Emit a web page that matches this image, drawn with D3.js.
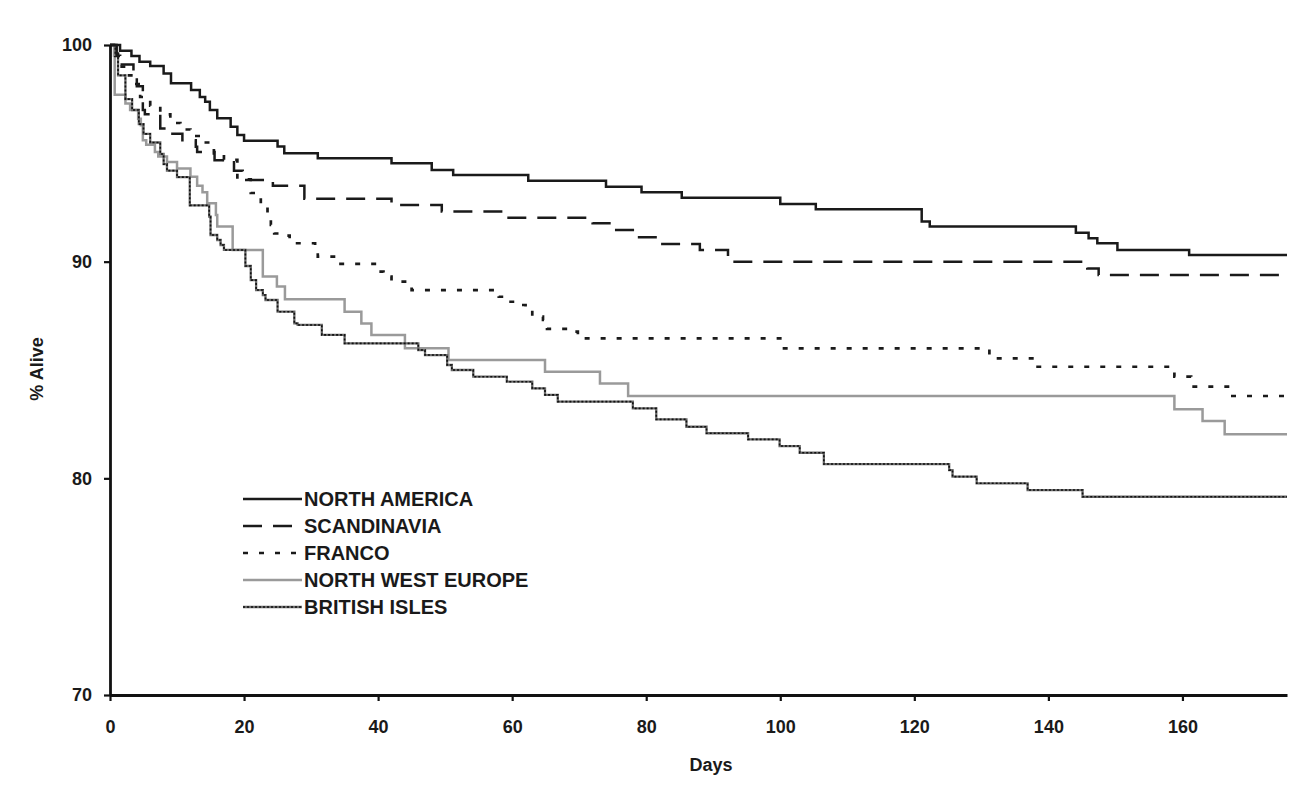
<!DOCTYPE html>
<html><head><meta charset="utf-8">
<script src="https://cdn.jsdelivr.net/npm/d3@7"></script>
<style>
body{margin:0;background:#fff}
svg{display:block}
text{font-family:"Liberation Sans",Arial,Helvetica,sans-serif;font-weight:bold;fill:#1a1a1a}
</style>
</head><body>
<svg id="c" width="1289" height="786"></svg>
<script>
// ---- data ----
const seriesNames = ["NORTH AMERICA","SCANDINAVIA","FRANCO","NORTH WEST EUROPE","BRITISH ISLES"];
const xTicks = [0,20,40,60,80,100,120,140,160];
const yTicks = [70,80,90,100];
const xMax = 175.6;
const xLabel = "Days";
const yLabel = "% Alive";

const naDays = [0,1.5,3.2,4.4,6,8,9.1,12.1,13.4,14.2,14.9,16,18,19,20,25,26,31,42,48,51.2,62.4,74,79.3,85.3,100,105.3,121.1,122.3,144.1,146,147.3,150.3,161];
const naVals = [100,99.74,99.49,99.23,99.03,98.69,98.23,97.92,97.6,97.38,97.0,96.62,96.23,95.85,95.58,95.31,95.0,94.77,94.54,94.23,94.0,93.74,93.46,93.2,92.95,92.66,92.42,91.85,91.62,91.34,91.08,90.85,90.54,90.31];

const scDays = [0,1,1.2,3.5,4.0,4.9,5.2,7.5,9,10.8,12.8,13.0,15.6,18.5,19.8,24.3,29,42,49.5,59,72,75,78,82,88,92.2,145.8,147.5];
const scVals = [100,99.6,99.1,98.6,98.1,97.0,96.8,96.15,95.9,95.6,95.3,95.06,94.68,94.2,93.77,93.5,92.9,92.62,92.31,92.03,91.77,91.46,91.13,90.82,90.54,90.0,89.69,89.38];

const frDays = [0,0.8,1.5,2.5,3.5,4.5,6,7.5,9,10.5,12,13.5,15.5,17,19,21,22.5,23.5,24,24.5,26,26.8,30.6,31,34,39.8,40.8,42,45,58,59.2,61,62,63,64.6,65.2,69,69.8,100,131.2,138,158.8,161.3,167];
const frVals = [100,99.5,99.0,98.6,98.2,97.6,97.2,96.8,96.4,96.1,95.8,95.5,95.0,94.7,93.8,93.17,92.6,92.15,91.7,91.3,91.2,90.85,90.77,90.23,89.9,89.54,89.31,89.08,88.69,88.38,88.15,88.0,87.77,87.46,87.31,86.9,86.77,86.46,86.0,85.54,85.15,84.69,84.23,83.8];

const nwDays = [0,0.6,0.7,2.3,3.0,4.2,4.6,4.9,5.4,6.7,7.2,8.5,10,12,13,13.8,14.5,15.8,16,18.3,22.8,24.9,26.1,35,37.5,39,44,50.5,64.9,73.1,77.3,158.8,163,166.3];
const nwVals = [100,99.5,97.7,97.3,97.0,96.6,96.3,95.6,95.4,95.06,94.85,94.6,94.3,93.92,93.5,93.2,92.7,92.15,91.62,90.54,89.31,88.85,88.26,87.69,87.15,86.62,86.0,85.46,84.92,84.38,83.8,83.19,82.65,82.03];

const biDays = [0,0.8,1.2,2.3,3.3,4.3,5,6,7.5,8,8.5,10,11.9,14.8,15,16,16.5,17,20.2,21,21.8,22.8,23.2,25,27.5,28,31.6,35,46,47,50.3,51,54.2,59.2,63,64.9,66.8,78,81.5,86,89,95.2,99.9,102.9,106.5,125.2,125.7,129.3,136.9,145.1];
const biVals = [100,99.6,98.6,97.5,97.0,96.35,95.9,95.5,94.97,94.5,94.2,93.9,92.6,92.08,91.23,91.0,90.77,90.54,89.8,89.15,88.69,88.46,88.23,87.69,87.15,87.08,86.62,86.23,85.92,85.69,85.23,85.0,84.69,84.46,84.15,83.85,83.54,83.23,82.72,82.38,82.08,81.8,81.49,81.18,80.66,80.38,80.08,79.77,79.46,79.15];

// ---- styles ----
const styles = [
  {stroke:"#1a1a1a", width:2.5, dash:null},
  {stroke:"#1a1a1a", width:2.5, dash:"19,11"},
  {stroke:"#1a1a1a", width:2.7, dash:"5,11"},
  {stroke:"#9a9a9a", width:2.5, dash:null},
  {stroke:"#6a6a6a", width:2.3, dash:null, overlay:{stroke:"#111", width:1.6, dash:"2,2"}}
];

const seriesData = [[naDays,naVals],[scDays,scVals],[frDays,frVals],[nwDays,nwVals],[biDays,biVals]]
  .map(([d,v]) => { const pts = d.map((x,i)=>({x, y:v[i]})); pts.push({x:xMax, y:v[v.length-1]}); return pts; });

const svg = d3.select("#c");
const x = d3.scaleLinear().domain([0, xMax]).range([110, 1287]);
const y = d3.scaleLinear().domain([70, 100]).range([695, 45]);

const line = d3.line().x(d=>x(d.x)).y(d=>y(d.y)).curve(d3.curveStepAfter);

// series (draw light ones first)
const order = [3,4,2,1,0];
order.forEach(i => {
  const s = styles[i];
  svg.append("path").datum(seriesData[i]).attr("d", line)
    .attr("fill","none").attr("stroke", s.stroke).attr("stroke-width", s.width)
    .attr("stroke-dasharray", s.dash).attr("stroke-linejoin","miter");
  if (s.overlay) {
    svg.append("path").datum(seriesData[i]).attr("d", line)
      .attr("fill","none").attr("stroke", s.overlay.stroke).attr("stroke-width", s.overlay.width)
      .attr("stroke-dasharray", s.overlay.dash);
  }
});

// axes
const gx = svg.append("g").attr("transform","translate(0,695)")
  .call(d3.axisBottom(x).tickValues(xTicks).tickFormat(d3.format("d")).tickSizeInner(6).tickSizeOuter(0).tickPadding(19));
const gy = svg.append("g").attr("transform","translate(110,0)")
  .call(d3.axisLeft(y).tickValues(yTicks).tickFormat(d3.format("d")).tickSizeInner(6).tickSizeOuter(0).tickPadding(12));
[gx,gy].forEach(g => {
  g.select(".domain").attr("stroke","#111").attr("stroke-width",2.8);
  g.selectAll(".tick line").attr("stroke","#111").attr("stroke-width",2.2);
  g.selectAll(".tick text").attr("font-size",18).attr("font-family",null).style("fill","#1a1a1a");
});

svg.append("text").attr("x",711).attr("y",771).attr("text-anchor","middle").attr("font-size",18).text(xLabel);
svg.append("text").attr("transform","translate(43,369) rotate(-90)").attr("text-anchor","middle").attr("font-size",18).text(yLabel);

// legend
const ly = d3.scalePoint().domain(seriesNames).range([499,607]);
seriesNames.forEach((name,i) => {
  const s = styles[i];
  const yy = ly(name);
  svg.append("line").attr("x1",243).attr("x2",302).attr("y1",yy).attr("y2",yy)
    .attr("stroke",s.stroke).attr("stroke-width",s.width).attr("stroke-dasharray",s.dash);
  if (s.overlay) {
    svg.append("line").attr("x1",243).attr("x2",302).attr("y1",yy).attr("y2",yy)
      .attr("stroke",s.overlay.stroke).attr("stroke-width",s.overlay.width).attr("stroke-dasharray",s.overlay.dash);
  }
  svg.append("text").attr("x",304).attr("y",yy).attr("dy","0.36em").attr("font-size",20).text(name);
});
</script>
</body></html>
